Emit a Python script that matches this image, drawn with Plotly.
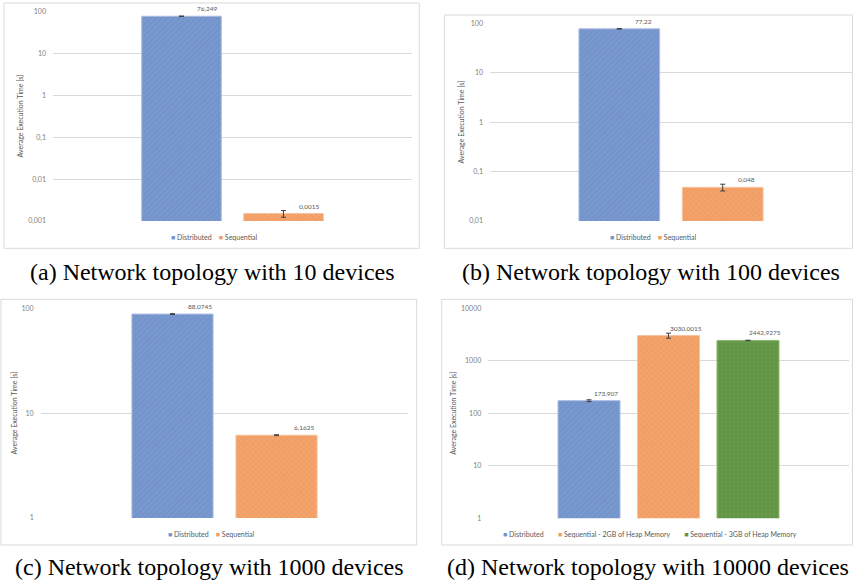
import numpy as np
import plotly.graph_objects as go

# ---------------- data ----------------
captions = [
    "(a) Network topology with 10 devices",
    "(b) Network topology with 100 devices",
    "(c) Network topology with 1000 devices",
    "(d) Network topology with 10000 devices",
]
series_a = ["Distributed", "Sequential"]
values_a = [76.249, 0.0015]
errors_a = [1.0, 0.00027]

series_b = ["Distributed", "Sequential"]
values_b = [77.22, 0.048]
errors_b = [1.0, 0.0075]

series_c = ["Distributed", "Sequential"]
values_c = [88.0745, 6.1625]
errors_c = [0.8, 0.06]

series_d = ["Distributed", "Sequential - 2GB of Heap Memory", "Sequential - 3GB of Heap Memory"]
values_d = [173.907, 3030.0015, 2442.9275]
errors_d = [7.0, 330.0, 20.0]

ticks_a = [0.001, 0.01, 0.1, 1, 10, 100]
ticks_b = [0.01, 0.1, 1, 10, 100]
ticks_c = [1, 10, 100]
ticks_d = [1, 10, 100, 1000, 10000]

y_title = "Average Execution Time [s]"

# ---------------- style / layout ----------------
W, H = 853, 583
colors = ["#7393CB", "#F19E65", "#5E9341"]
pat_fg = ["#86A3D6", "#F5B282", "#7FAE62"]
pat_shape = ["/", "x", "+"]
edge = ["#A9BCE2", "#F7C29C", "#8FB876"]
small_font = "Lato, 'Open Sans', sans-serif"
grid_col = "#D9D9D9"
text_col = "#595959"
tick_col = "#808080"

panels = [
    dict(series=series_a, values=values_a, errors=errors_a, ticks=ticks_a, yr=(-3, 2),
         plot=(53, 412, 11.3, 221), border=(4, 419.3, 3, 248.3), half=1.76,
         cap=(212.5, 272), leg=(214, 237), dx=26, lsep=4),
    dict(series=series_b, values=values_b, errors=errors_b, ticks=ticks_b, yr=(-2, 2),
         plot=(490, 852, 23.3, 221), border=(444.3, 852.5, 15, 248.3), half=1.75,
         cap=(651, 272), leg=(653, 237), dx=24, lsep=4),
    dict(series=series_c, values=values_c, errors=errors_c, ticks=ticks_c, yr=(0, 2),
         plot=(40.7, 408.3, 308.3, 518), border=(1, 416.7, 299.3, 545), half=1.767,
         cap=(209, 567), leg=(210.5, 534), dx=28, lsep=4),
    dict(series=series_d, values=values_d, errors=errors_d, ticks=ticks_d, yr=(0, 4),
         plot=(488.3, 848.7, 308.3, 518.3), border=(441.7, 852.5, 299.3, 545), half=2.267,
         cap=(647.5, 567), leg=(650, 534), dx=17, lsep=8),
]


def fmt(v):
    s = repr(float(v))
    if s.endswith(".0"):
        s = s[:-2]
    return s.replace(".", ",")


fig = go.Figure()
layout = dict(
    width=W, height=H, margin=dict(l=0, r=0, t=0, b=0),
    paper_bgcolor="white", plot_bgcolor="white", showlegend=False,
    barmode="overlay",
)
annotations = []
shapes = []

for k, p in enumerate(panels, start=1):
    sfx = "" if k == 1 else str(k)
    xa, ya = "x" + sfx, "y" + sfx
    n = len(p["series"])
    for i, (name, v, e) in enumerate(zip(p["series"], p["values"], p["errors"])):
        fig.add_trace(go.Bar(
            x=[i], y=[v], name=name, width=0.78,
            xaxis=xa, yaxis=ya,
            marker=dict(color=colors[i],
                        line=dict(color=edge[i], width=1),
                        pattern=dict(shape=pat_shape[i], fgcolor=pat_fg[i],
                                     bgcolor=colors[i], size=4, solidity=0.35)),
            error_y=dict(type="data", array=[e], visible=True,
                         color="#404040", thickness=1, width=2.5),
            hoverinfo="skip",
        ))
        annotations.append(dict(
            x=i, y=np.log10(v), xref=xa, yref=ya, text=fmt(v), showarrow=False,
            xshift=p["dx"], yshift=2, yanchor="bottom", xanchor="center",
            font=dict(family=small_font, size=6.5, color=text_col),
        ))
    x0, x1, top, bot = p["plot"]
    c = (n - 1) / 2
    layout["xaxis" + sfx] = dict(
        domain=[x0 / W, x1 / W], anchor=ya, range=[c - p["half"], c + p["half"]],
        showgrid=False, zeroline=False, showticklabels=False, showline=False,
        fixedrange=True,
    )
    layout["yaxis" + sfx] = dict(
        domain=[1 - bot / H, 1 - top / H], anchor=xa, type="log",
        range=list(p["yr"]), tickvals=p["ticks"], ticktext=[fmt(t) for t in p["ticks"]],
        showgrid=True, gridcolor=grid_col, gridwidth=1, zeroline=False,
        showline=False, ticks="", ticklabelstandoff=6,
        tickfont=dict(family=small_font, size=7, color=tick_col),
        title=dict(text=y_title, standoff=3,
                   font=dict(family=small_font, size=7, color=text_col)),
        automargin=False, fixedrange=True,
    )
    # chart border
    bx0, bx1, bt, bb = p["border"]
    shapes.append(dict(type="rect", xref="paper", yref="paper",
                       x0=bx0 / W, x1=bx1 / W, y0=1 - bb / H, y1=1 - bt / H,
                       line=dict(color="#D9D9D9", width=1), fillcolor="rgba(0,0,0,0)",
                       layer="below"))
    # legend (manual)
    parts = []
    for i, name in enumerate(p["series"]):
        parts.append('<span style="color:%s">\u25A0</span>\u00a0%s' % (colors[i], name))
    leg_text = ("\u00a0" * p["lsep"]).join(parts)
    lx, ly = p["leg"]
    annotations.append(dict(
        x=lx / W, y=1 - ly / H, xref="paper", yref="paper", text=leg_text,
        showarrow=False, xanchor="center", yanchor="middle",
        font=dict(family=small_font, size=7, color=text_col),
    ))
    # caption
    cx, cy = p["cap"]
    annotations.append(dict(
        x=cx / W, y=1 - cy / H, xref="paper", yref="paper", text=captions[k - 1],
        showarrow=False, xanchor="center", yanchor="middle",
        font=dict(family="'Liberation Serif', 'DejaVu Serif', serif", size=24, color="black"),
    ))

layout["annotations"] = annotations
layout["shapes"] = shapes
fig.update_layout(**layout)
fig.write_html("out.html", config={"displayModeBar": False},
               post_script="document.body.style.margin='0';document.body.style.overflow='hidden';")
